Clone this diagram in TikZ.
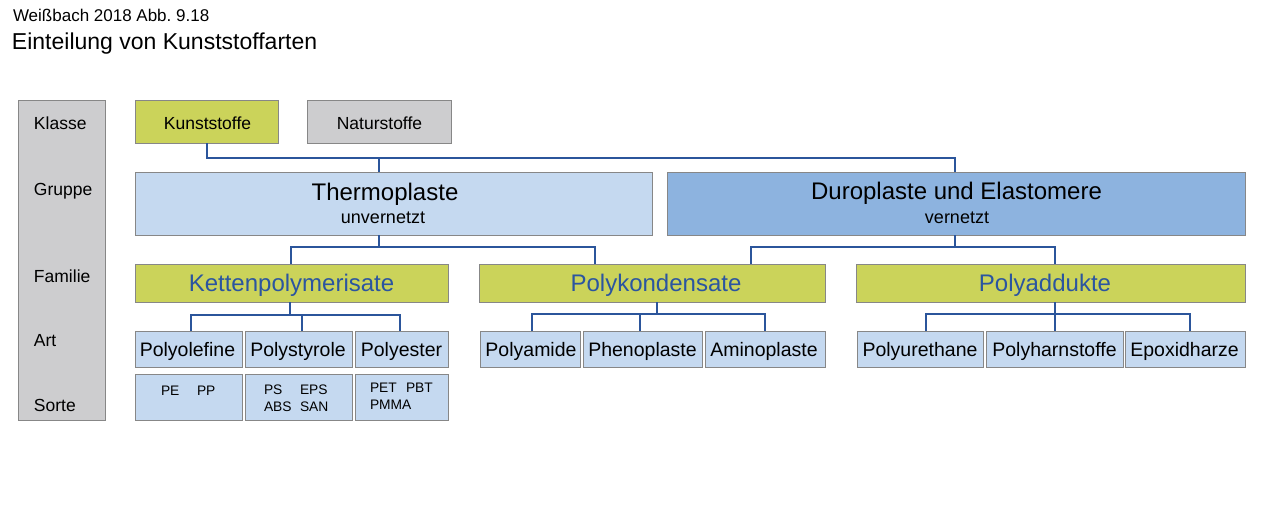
\documentclass[tikz,border=0pt]{standalone}
\usepackage{fontspec}
\setmainfont{Liberation Sans}
\frenchspacing
\definecolor{grayfill}{RGB}{205,205,207}
\definecolor{greenfill}{RGB}{203,211,90}
\definecolor{lightblue}{RGB}{197,217,240}
\definecolor{midblue}{RGB}{141,179,223}
\definecolor{bordergray}{RGB}{135,135,135}
\definecolor{connblue}{RGB}{43,85,155}
\definecolor{textblue}{RGB}{43,85,160}
\newcommand\myfs[1]{\fontsize{#1}{#1}\selectfont}
\begin{document}
\begin{tikzpicture}[x=1pt,y=-1pt,
  box/.style={draw=bordergray, line width=0.9pt, inner sep=0pt, outer sep=0pt, rectangle},
  graybox/.style={box, fill=grayfill},
  greenbox/.style={box, fill=greenfill},
  lbbox/.style={box, fill=lightblue},
  mbbox/.style={box, fill=midblue},
  txt/.style={inner sep=0pt, outer sep=0pt, anchor=base},
  ltxt/.style={inner sep=0pt, outer sep=0pt, anchor=base west},
  conn/.style={draw=connblue, line width=2pt, line join=miter},
  lvl/.style={ltxt, font=\myfs{17.5}},
  cls/.style={txt, font=\myfs{17.5}},
  fam/.style={txt, font=\myfs{24}, text=textblue},
  art/.style={txt, font=\myfs{19.5}},
  srt/.style={ltxt, font=\myfs{13.8}}
]
\useasboundingbox (0,0) rectangle (1280,512);

% titles
\node[ltxt, font=\myfs{17}] (t1) at (13,21) {Weißbach 2018 Abb. 9.18};
\node[ltxt, font=\myfs{23}] (t2) at (12,49) {Einteilung von Kunststoffarten};

% left column
\node[graybox, minimum width=86.5, minimum height=320] (col) at (61.75,260) {};
\node[lvl] (lk) at (34,129) {Klasse};
\node[lvl] (lg) at (34,195) {Gruppe};
\node[lvl] (lf) at (34,282) {Familie};
\node[lvl] (la) at (34,346) {Art};
\node[lvl] (ls) at (34,411) {Sorte};

% Klasse
\node[greenbox, minimum width=143, minimum height=43] (kunst) at (206.5,121.5) {};
\node[cls] (kunstT) at (207.5,129) {Kunststoffe};
\node[graybox, minimum width=144, minimum height=43] (natur) at (379,121.5) {};
\node[cls] (naturT) at (379.5,129) {Naturstoffe};

% Gruppe
\node[lbbox, minimum width=517, minimum height=63] (thermo) at (393.5,203.5) {};
\node[txt, font=\myfs{24}] (thermoT) at (385,200) {Thermoplaste};
\node[txt, font=\myfs{18}] (thermoS) at (383,223) {unvernetzt};
\node[mbbox, minimum width=578, minimum height=63] (duro) at (956,203.5) {};
\node[txt, font=\myfs{24}] (duroT) at (956.5,199) {Duroplaste und Elastomere};
\node[txt, font=\myfs{18}] (duroS) at (957,223) {vernetzt};

% Familie
\node[greenbox, minimum width=313, minimum height=38] (ketten) at (291.5,283) {};
\node[fam] (kettenT) at (291.5,291) {Kettenpolymerisate};
\node[greenbox, minimum width=346, minimum height=38] (polyk) at (652,283) {};
\node[fam] (polykT) at (656,291) {Polykondensate};
\node[greenbox, minimum width=389, minimum height=38] (polyad) at (1050.5,283) {};
\node[fam] (polyadT) at (1045,291) {Polyaddukte};

% Art
\node[lbbox, minimum width=107, minimum height=36] (pole) at (188.5,349) {};
\node[art] at (187.5,356) {Polyolefine};
\node[lbbox, minimum width=107, minimum height=36] (psty) at (298.5,349) {};
\node[art] at (298,356) {Polystyrole};
\node[lbbox, minimum width=93, minimum height=36] (pest) at (401.5,349) {};
\node[art] at (401.5,356) {Polyester};
\node[lbbox, minimum width=100, minimum height=36] (pami) at (530,349) {};
\node[art] at (531,356) {Polyamide};
\node[lbbox, minimum width=119, minimum height=36] (phen) at (642.5,349) {};
\node[art] at (642.5,356) {Phenoplaste};
\node[lbbox, minimum width=120, minimum height=36] (amin) at (765,349) {};
\node[art] at (764,356) {Aminoplaste};
\node[lbbox, minimum width=126, minimum height=36] (pure) at (920,349) {};
\node[art] at (920,356) {Polyurethane};
\node[lbbox, minimum width=137, minimum height=36] (phar) at (1054.5,349) {};
\node[art] at (1054.5,356) {Polyharnstoffe};
\node[lbbox, minimum width=120, minimum height=36] (epox) at (1185,349) {};
\node[art] at (1184.5,356) {Epoxidharze};

% Sorte
\node[lbbox, minimum width=107, minimum height=46] (s1) at (188.5,397) {};
\node[lbbox, minimum width=107, minimum height=46] (s2) at (298.5,397) {};
\node[lbbox, minimum width=93, minimum height=46] (s3) at (401.5,397) {};
\node[srt] at (161,395) {PE};
\node[srt] at (197,395) {PP};
\node[srt] at (264,394) {PS};
\node[srt] at (300,394) {EPS};
\node[srt] at (264,411) {ABS};
\node[srt] at (300,411) {SAN};
\node[srt] at (370,392) {PET};
\node[srt] at (406,392) {PBT};
\node[srt] at (370,409) {PMMA};

% connectors: Klasse -> Gruppe
\draw[conn] (kunst.south) |- (955,158) -- (955,0 |- duro.north);
\draw[conn] (379,158) -- (379,0 |- thermo.north);
% Gruppe -> Familie
\draw[conn] (379,0 |- thermo.south) -- (379,247);
\draw[conn] (291,0 |- ketten.north) |- (595,247) -- (595,0 |- polyk.north);
\draw[conn] (955,0 |- duro.south) -- (955,247);
\draw[conn] (751,0 |- polyk.north) |- (1055,247) -- (1055,0 |- polyad.north);
% Familie -> Art
\draw[conn] (290,0 |- ketten.south) -- (290,315);
\draw[conn] (191,0 |- pole.north) |- (400,315) -- (400,0 |- pest.north);
\draw[conn] (302,315) -- (302,0 |- psty.north);
\draw[conn] (657,0 |- polyk.south) -- (657,314);
\draw[conn] (532,0 |- pami.north) |- (765,314) -- (765,0 |- amin.north);
\draw[conn] (640,314) -- (640,0 |- phen.north);
\draw[conn] (1055,0 |- polyad.south) -- (1055,0 |- phar.north);
\draw[conn] (926,0 |- pure.north) |- (1190,314) -- (1190,0 |- epox.north);
\end{tikzpicture}
\end{document}
